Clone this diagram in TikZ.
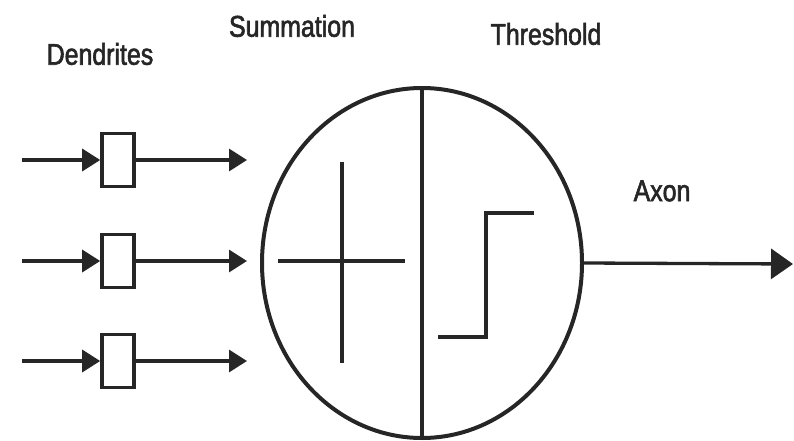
\documentclass[tikz,border=0pt]{standalone}
\usepackage{fontspec}
\newfontfamily\labelfont[FakeStretch=0.83,FakeBold=2]{Liberation Sans}
\usetikzlibrary{arrows.meta,positioning,shapes.geometric}

\begin{document}
\begin{tikzpicture}[x=1pt, y=-1pt,
    line/.style={black!85, line width=3.3pt},
    arr/.style={line, -{Triangle[length=18pt, width=22pt]}},
    axon/.style={line, -{Triangle[length=22pt, width=30pt]}},
    syn/.style={draw=black!85, line width=3.6pt, minimum width=32pt, minimum height=53pt, inner sep=0pt},
    soma/.style={draw=black!85, line width=4pt, ellipse, minimum width=320pt, minimum height=350pt, inner sep=0pt},
    lbl/.style={font=\labelfont\fontsize{30}{36}\selectfont, text=black!85, inner sep=0pt}
  ]
  \useasboundingbox (0,0) rectangle (794,441);

  % Dendriten
  \foreach \i/\y in {1/160, 2/261, 3/361} {
    \coordinate (in\i) at (22,\y);
    \node[syn] (s\i) at (118,\y) {};
    \coordinate (out\i) at (247,\y);
    \draw[arr] (in\i) -- (s\i.west);
    \draw[arr] (s\i.east) -- (out\i);
  }

  % Zellkoerper
  \node[soma] (cell) at (422,263) {};
  \draw[line] (cell.north) -- (cell.south);

  % Summe
  \draw[line] (278,261) -- (405,261);
  \draw[line] (342,162) -- (342,363);

  % Schwelle
  \draw[line] (438,337) -- (486,337) -- (486,213) -- (534,213);

  % Axon
  \coordinate (axonend) at (793,264);
  \draw[axon] (cell.east) -- (axonend);

  % Beschriftung
  \node[lbl] (dendlbl) at (100,54) {Dendrites};
  \node[lbl] (sumlbl) at (292,26) {Summation};
  \node[lbl] (thrlbl) at (546,34) {Threshold};
  \node[lbl] (axonlbl) at (662,191) {Axon};
\end{tikzpicture}
\end{document}
